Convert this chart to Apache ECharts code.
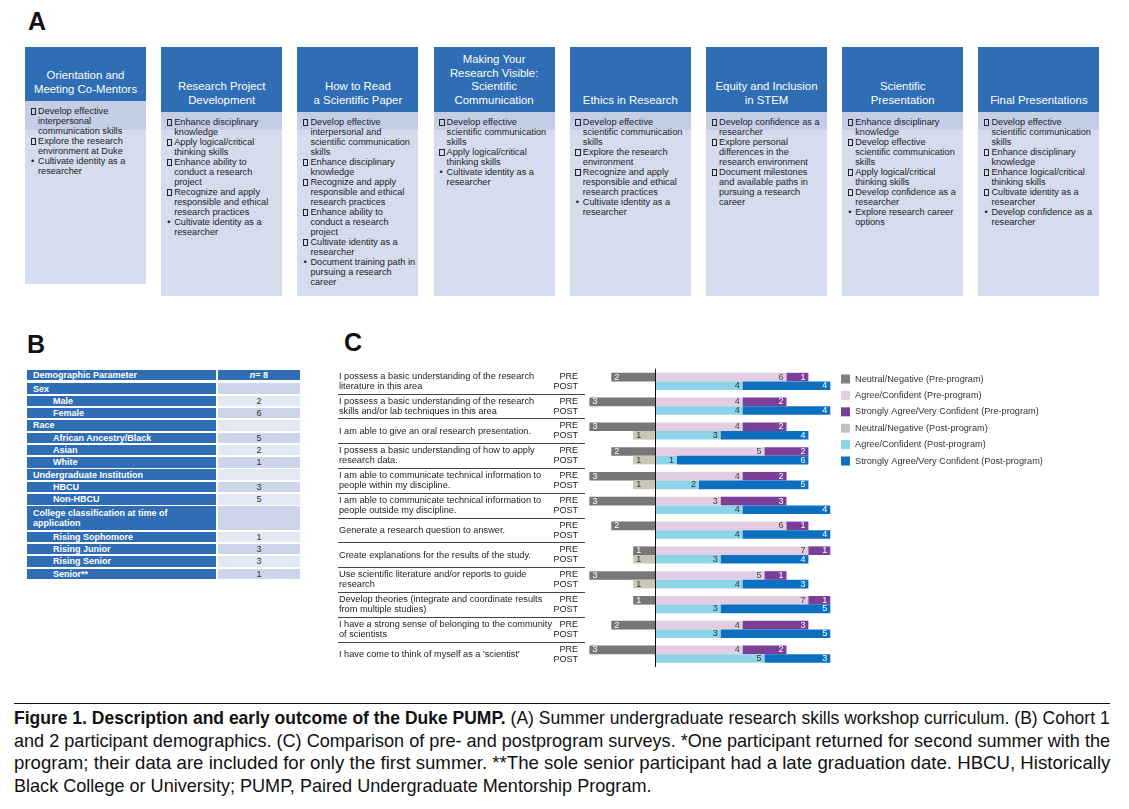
<!DOCTYPE html>
<html><head><meta charset="utf-8">
<script src="https://cdn.jsdelivr.net/npm/echarts@6/dist/echarts.min.js"></script>
<style>
html,body{margin:0;padding:0;background:#fff;}
#page{position:relative;width:1129px;height:809px;overflow:hidden;font-family:"Liberation Sans",Arial,sans-serif;color:#222;}
.plabel{position:absolute;font-weight:bold;font-size:25px;line-height:25px;color:#111;}
.box{position:absolute;top:47px;width:121px;background:#d4dcee;}
.hdr{position:absolute;left:0;top:0;width:121px;background:#2f6db4;color:#fff;font-size:11.4px;line-height:13.5px;text-align:center;display:flex;flex-direction:column;justify-content:flex-end;box-sizing:border-box;padding-bottom:5px;white-space:pre-line;}
.band{position:absolute;left:0;width:121px;background:#c4cee6;}
.body{position:absolute;left:0;width:121px;font-size:9.2px;line-height:10px;color:#222;}
.item{position:relative;padding-left:13px;white-space:pre-line;}
.sq{position:absolute;left:5.5px;top:2.3px;width:3.6px;height:4.6px;border:1.1px solid #222;}
.dot{position:absolute;left:6px;top:0;}
.trow{position:absolute;left:27px;}
.c1{position:absolute;left:0;top:0;width:189px;background:#2f6db4;color:#fff;font-weight:bold;font-size:9px;line-height:10px;box-sizing:border-box;display:flex;align-items:center;}
.c2{position:absolute;left:191px;top:0;width:82px;font-size:9px;line-height:10px;color:#333;text-align:center;display:flex;align-items:center;justify-content:center;}
#cap{position:absolute;left:14px;width:1096px;font-family:"Liberation Sans",Arial,sans-serif;font-size:19px;color:#111;}
.cl{position:absolute;left:0;height:22.7px;line-height:22.7px;white-space:nowrap;display:inline-block;transform-origin:0 50%;}
#chart{position:absolute;left:0;top:0;width:1129px;height:809px;z-index:2;}
</style></head>
<body><div id="page">
<div class="plabel" style="left:28px;top:8.7px;">A</div>
<div class="plabel" style="left:27px;top:331.7px;">B</div>
<div class="plabel" style="left:344px;top:329.7px;">C</div>
<div id="panelA"></div>
<div id="panelB"></div>
<div style="position:absolute;left:14px;top:702.5px;width:1096px;height:1.2px;background:#111;"></div>
<div id="cap"></div>
<div id="chart"></div>
</div>
<script>
// ---------- Panel A: workshop curriculum ----------
const workshopTitles = [
  "Orientation and\nMeeting Co-Mentors",
  "Research Project\nDevelopment",
  "How to Read\na Scientific Paper",
  "Making Your\nResearch Visible:\nScientific\nCommunication",
  "Ethics in Research",
  "Equity and Inclusion\nin STEM",
  "Scientific\nPresentation",
  "Final Presentations"
];
// "s|" = hollow square item, "d|" = dot bullet item
const workshopItems = [
  ["s|Develop effective\ninterpersonal\ncommunication skills","s|Explore the research\nenvironment at Duke","d|Cultivate identity as a\nresearcher"],
  ["s|Enhance disciplinary\nknowledge","s|Apply logical/critical\nthinking skills","s|Enhance ability to\nconduct a research\nproject","s|Recognize and apply\nresponsible and ethical\nresearch practices","d|Cultivate identity as a\nresearcher"],
  ["s|Develop effective\ninterpersonal and\nscientific communication\nskills","s|Enhance disciplinary\nknowledge","s|Recognize and apply\nresponsible and ethical\nresearch practices","s|Enhance ability to\nconduct a research\nproject","s|Cultivate identity as a\nresearcher","d|Document training path in\npursuing a research\ncareer"],
  ["s|Develop effective\nscientific communication\nskills","s|Apply logical/critical\nthinking skills","d|Cultivate identity as a\nresearcher"],
  ["s|Develop effective\nscientific communication\nskills","s|Explore the research\nenvironment","s|Recognize and apply\nresponsible and ethical\nresearch practices","d|Cultivate identity as a\nresearcher"],
  ["s|Develop confidence as a\nresearcher","s|Explore personal\ndifferences in the\nresearch environment","s|Document milestones\nand available paths in\npursuing a research\ncareer"],
  ["s|Enhance disciplinary\nknowledge","s|Develop effective\nscientific communication\nskills","s|Apply logical/critical\nthinking skills","s|Develop confidence as a\nresearcher","d|Explore research career\noptions"],
  ["s|Develop effective\nscientific communication\nskills","s|Enhance disciplinary\nknowledge","s|Enhance logical/critical\nthinking skills","s|Cultivate identity as a\nresearcher","d|Develop confidence as a\nresearcher"]
];

// ---------- Panel B: demographics ----------
const demoHeader = ["Demographic Parameter", "<i>n</i> = 8"];
const demoLabels = ["Sex","Male","Female","Race","African Ancestry/Black","Asian","White","Undergraduate Institution","HBCU","Non-HBCU","College classification at time of\napplication","Rising Sophomore","Rising Junior","Rising Senior","Senior**"];
const demoValues = ["", "2", "6", "", "5", "2", "1", "", "3", "5", "", "1", "3", "3", "1"];
const demoLevel  = [0,1,1,0,1,1,1,0,1,1,0,1,1,1,1];

// ---------- Panel C: survey data ----------
const questions = [
  "I possess a basic understanding of the research\nliterature in this area",
  "I possess a basic understanding of the research\nskills and/or lab techniques in this area",
  "I am able to give an oral research presentation.",
  "I possess a basic understanding of how to apply\nresearch data.",
  "I am able to communicate technical information to\npeople within my discipline.",
  "I am able to communicate technical information to\npeople outside my discipline.",
  "Generate a research question to answer.",
  "Create explanations for the results of the study.",
  "Use scientific literature and/or reports to guide\nresearch",
  "Develop theories (integrate and coordinate results\nfrom multiple studies)",
  "I have a strong sense of belonging to the community\nof scientists",
  "I have come to think of myself as a 'scientist'"
];
const phaseLabels = ["PRE", "POST"];
const seriesNames = ["Neutral/Negative (Pre-program)","Agree/Confident (Pre-program)","Strongly Agree/Very Confident (Pre-program)","Neutral/Negative (Post-program)","Agree/Confident (Post-program)","Strongly Agree/Very Confident (Post-program)"];
const preNeutral  = [2,3,3,2,3,3,2,1,3,1,2,3];
const preAgree    = [6,4,4,5,4,3,6,7,5,7,4,4];
const preStrong   = [1,2,2,2,2,3,1,1,1,1,3,2];
const postNeutral = [0,0,1,1,1,0,0,1,1,0,0,0];
const postAgree   = [4,4,3,1,2,4,4,3,4,3,3,5];
const postStrong  = [4,4,4,6,5,4,4,4,3,5,5,3];

const captionLines = [
  "<b>Figure 1. Description and early outcome of the Duke PUMP.</b> (A) Summer undergraduate research skills workshop curriculum. (B) Cohort 1",
  "and 2 participant demographics. (C) Comparison of pre- and postprogram surveys. *One participant returned for second summer with the",
  "program; their data are included for only the first summer. **The sole senior participant had a late graduation date. HBCU, Historically",
  "Black College or University; PUMP, Paired Undergraduate Mentorship Program."
];

// ---- build panel A ----
(function(){
  const host = document.getElementById('panelA');
  workshopTitles.forEach((t, i) => {
    const first = i === 0;
    const hdrH = first ? 54 : 65.3;
    const boxH = first ? 237 : 249;
    const box = document.createElement('div');
    box.className = 'box';
    box.style.left = (25 + i * 136.2) + 'px';
    box.style.height = boxH + 'px';
    const hdr = document.createElement('div');
    hdr.className = 'hdr'; hdr.style.height = hdrH + 'px'; hdr.textContent = t;
    const band = document.createElement('div');
    band.className = 'band'; band.style.top = hdrH + 'px'; band.style.height = (83 - hdrH) + 'px';
    const body = document.createElement('div');
    body.className = 'body'; body.style.top = (hdrH + (first ? 5 : 4.5)) + 'px';
    workshopItems[i].forEach(s => {
      const [kind, txt] = s.split('|');
      const it = document.createElement('div'); it.className = 'item';
      const b = document.createElement('span');
      if (kind === 's') { b.className = 'sq'; } else { b.className = 'dot'; b.textContent = '\u2022'; }
      it.appendChild(b);
      it.appendChild(document.createTextNode(txt));
      body.appendChild(it);
    });
    box.appendChild(band); box.appendChild(hdr); box.appendChild(body);
    host.appendChild(box);
  });
})();

// ---- build panel B ----
(function(){
  const host = document.getElementById('panelB');
  function row(top, h, lab, val, indent, valBg, headerRow){
    const r = document.createElement('div'); r.className = 'trow';
    r.style.top = top + 'px'; r.style.height = h + 'px'; r.style.width = '273px';
    const a = document.createElement('div'); a.className = 'c1';
    a.style.height = h + 'px'; a.style.paddingLeft = indent + 'px'; a.style.whiteSpace = 'pre-line';
    a.innerHTML = lab;
    const b = document.createElement('div'); b.className = 'c2';
    b.style.height = h + 'px'; b.style.background = valBg; b.innerHTML = val;
    if (headerRow) { b.style.color = '#fff'; b.style.fontWeight = 'bold'; }
    r.appendChild(a); r.appendChild(b); host.appendChild(r);
  }
  row(370, 10.3, demoHeader[0], demoHeader[1], 6, '#2f6db4', true);
  let y = 383.3;
  demoLabels.forEach((lab, i) => {
    const h = lab.indexOf('\n') >= 0 ? 23.6 : 10.6;
    row(y, h, lab, demoValues[i], demoLevel[i] ? 26 : 6, i % 2 === 0 ? '#cdd5ea' : '#e4e8f2', false);
    y += h + 1.7;
  });
})();

// ---- caption (lines condensed to fit the 1096px measure) ----
(function(){
  const cap = document.getElementById('cap');
  cap.style.top = '707px';
  const els = captionLines.map((l, i) => {
    const d = document.createElement('div');
    d.className = 'cl';
    d.style.top = (i * 22.7) + 'px';
    d.innerHTML = l;
    cap.appendChild(d);
    return d;
  });
  const scales = [];
  els.forEach((d, i) => {
    if (i < els.length - 1) {
      const s = 1096 / d.offsetWidth; scales.push(s);
      d.style.transform = 'scaleX(' + s + ')';
    }
  });
  const avg = scales.reduce((a, b) => a + b, 0) / scales.length;
  els[els.length - 1].style.transform = 'scaleX(' + avg + ')';
})();

// ---- panel C chart ----
const chart = echarts.init(document.getElementById('chart'), null, {renderer: 'canvas'});
const colors = ['#777777', '#e3cde3', '#7b3f98', '#c9c7b3', '#8dd3ea', '#0b70c0'];
const labelColors = ['#fff', '#444', '#fff', '#333', '#333', '#fff'];
const dataSets = [preNeutral.map(v => -v), preAgree, preStrong, postNeutral.map(v => -v), postAgree, postStrong];
const series = dataSets.map((d, i) => {
  const s = {
    name: seriesNames[i], type: 'bar', stack: i < 3 ? 'pre' : 'post',
    xAxisIndex: 0, yAxisIndex: 0, data: d, barWidth: 8.6, barGap: '0%',
    itemStyle: {color: colors[i]},
    label: {show: true, position: (i % 3 === 0) ? 'insideLeft' : 'insideRight', distance: 3,
      fontSize: 9, color: labelColors[i], formatter: p => p.value ? String(Math.abs(p.value)) : ''}
  };
  if (i === 1) {
    s.markLine = {silent: true, symbol: ['none', 'none'], label: {show: false},
      lineStyle: {color: '#111', width: 1, type: 'solid'}, data: [{xAxis: 0}]};
  }
  return s;
});
const legendIcons = ['#7f7f7f', '#e3cde3', '#7b3f98', '#c2c2c2', '#8dd3ea', '#0b70c0'];
chart.setOption({
  animation: false,
  textStyle: {fontFamily: '"Liberation Sans", Arial, sans-serif'},
  grid: [
    {left: 585, top: 369, width: 245.3, height: 297.6},
    {left: 338, top: 369, width: 247, height: 297.6}
  ],
  xAxis: [
    {gridIndex: 0, type: 'value', min: -3.2, max: 8, show: false},
    {gridIndex: 1, type: 'value', min: 0, max: 1, show: false}
  ],
  yAxis: [
    {gridIndex: 0, type: 'category', inverse: true, data: questions,
      axisLine: {show: true, lineStyle: {color: '#222', width: 1}}, axisTick: {show: false},
      splitLine: {show: false},
      axisLabel: {interval: 0, formatter: () => phaseLabels.join('\n'), fontSize: 9, lineHeight: 10, margin: 7, color: '#222'}},
    {gridIndex: 1, type: 'category', inverse: true, data: questions,
      axisLine: {show: false}, axisTick: {show: false},
      axisLabel: {interval: 0, inside: true, margin: 1, fontSize: 9.2, lineHeight: 10, color: '#222', align: 'left'},
      splitLine: {show: true, interval: 0, showMinLine: false, showMaxLine: false, lineStyle: {color: '#444', width: 1}}}
  ],
  legend: {orient: 'vertical', left: 836, top: 369.5, itemWidth: 9, itemHeight: 9, itemGap: 7.4, icon: 'rect',
    textStyle: {fontSize: 9.2, color: '#333', lineHeight: 9},
    data: seriesNames.map((n, i) => ({name: n, itemStyle: {color: legendIcons[i]}}))},
  series: series
});
</script>
</body></html>
